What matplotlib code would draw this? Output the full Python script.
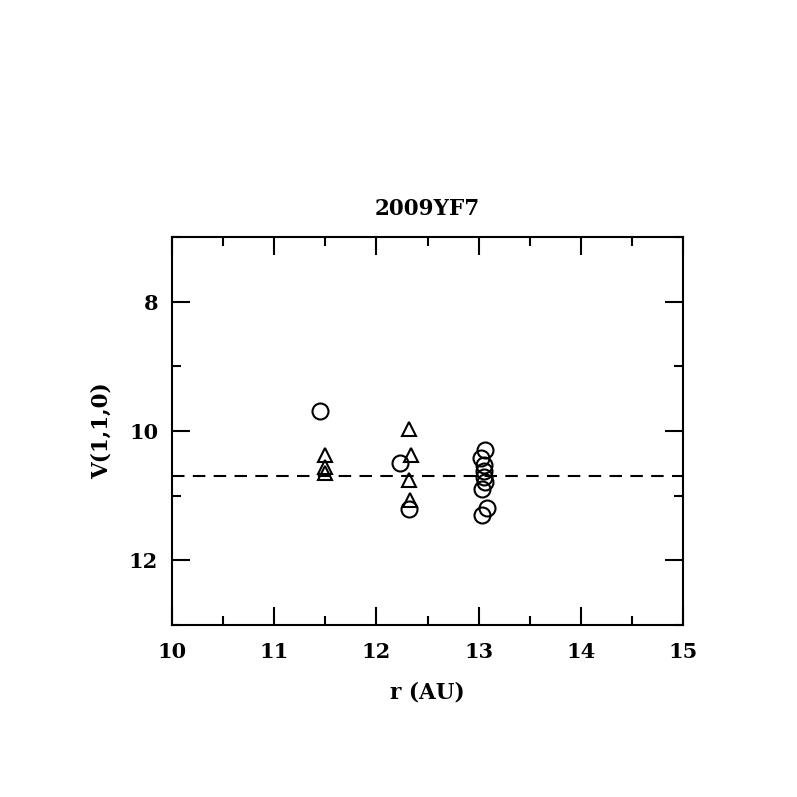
import matplotlib
matplotlib.use("Agg")
import matplotlib.pyplot as plt
from matplotlib.ticker import MultipleLocator

circle_r = [11.45, 12.23, 12.32, 13.06, 13.02, 13.05, 13.05, 13.05, 13.06, 13.03, 13.08, 13.03]
circle_v = [9.69, 10.50, 11.21, 10.29, 10.42, 10.53, 10.62, 10.71, 10.79, 10.90, 11.19, 11.30]
tri_r = [11.50, 11.50, 11.50, 12.32, 12.34, 12.32, 12.33]
tri_v = [10.37, 10.56, 10.65, 9.97, 10.37, 10.76, 11.07]
mean_v = 10.70
title = "2009YF7"
xlabel = "r (AU)"
ylabel = "V(1,1,0)"

fig = plt.figure(figsize=(7.97, 7.97), dpi=100)
ax = fig.add_axes([0.2158, 0.2158, 0.857 - 0.2158, 0.7026 - 0.2158])

font = dict(family="DejaVu Serif", weight="bold")

ax.plot(circle_r, circle_v, linestyle="none", marker="o", markersize=11.5,
        markerfacecolor="none", markeredgecolor="black", markeredgewidth=1.5)
ax.plot(tri_r, tri_v, linestyle="none", marker="^", markersize=10.5,
        markerfacecolor="none", markeredgecolor="black", markeredgewidth=1.5)
ax.axhline(mean_v, color="black", linestyle=(0, (6, 4)), linewidth=1.5)

ax.set_xlim(10, 15)
ax.set_ylim(13, 7)
ax.xaxis.set_major_locator(MultipleLocator(1))
ax.xaxis.set_minor_locator(MultipleLocator(0.5))
ax.yaxis.set_major_locator(MultipleLocator(2))
ax.yaxis.set_minor_locator(MultipleLocator(1))
ax.tick_params(which="both", direction="in", top=True, right=True, width=1.5,
               labelsize=15, pad=10)
ax.tick_params(axis="x", which="major", pad=12)
ax.tick_params(which="major", length=13)
ax.tick_params(which="minor", length=6.5)
for lab in ax.get_xticklabels() + ax.get_yticklabels():
    lab.set_fontfamily("DejaVu Serif")
    lab.set_fontweight("bold")
for s in ax.spines.values():
    s.set_linewidth(1.5)

ax.set_title(title, fontsize=15.5, pad=16, **font)
ax.set_xlabel(xlabel, fontsize=15.5, labelpad=14, **font)
ax.set_ylabel(ylabel, fontsize=15.5, labelpad=12, **font)

fig.savefig("out.png", dpi=100)
